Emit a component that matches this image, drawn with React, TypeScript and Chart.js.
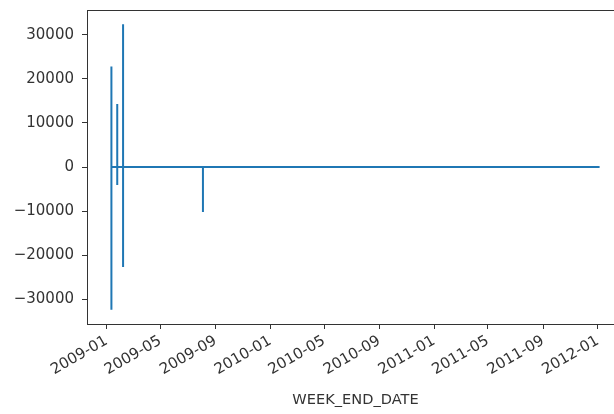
import React, { useEffect, useRef } from "react";
import { Chart, registerables } from "chart.js";

Chart.register(...registerables);

// Points in drawing order (several rows share one week, so the line runs up and down)
const pointDates = [
  "2009-01-12", "2009-01-12", "2009-01-12", "2009-01-12",
  "2009-01-25", "2009-01-25", "2009-01-25", "2009-01-25",
  "2009-02-07", "2009-02-07", "2009-02-07", "2009-02-07", "2009-02-07", "2009-02-07",
  "2009-08-04", "2009-08-04", "2009-08-04",
  "2012-01-05",
];
const pointValues = [
  0, 22800, -32400, 0,
  0, 14300, -4100, 0,
  0, 23600, -8600, 32400, -22700, 0,
  0, -10200, 0,
  0,
];

const xTickLabels = [
  "2009-01", "2009-05", "2009-09", "2010-01", "2010-05",
  "2010-09", "2011-01", "2011-05", "2011-09", "2012-01",
];
const yTickValues = [-30000, -20000, -10000, 0, 10000, 20000, 30000];

const xLabel = "WEEK_END_DATE";

const toMs = (s: string) => {
  const p = s.split("-").map(Number);
  return Date.UTC(p[0], p[1] - 1, p[2] || 1);
};

export default function App() {
  const ref = useRef<HTMLCanvasElement | null>(null);

  useEffect(() => {
    const canvas = ref.current;
    if (!canvas) return;
    const xs = pointDates.map(toMs);
    const xMinData = Math.min(...xs);
    const xMaxData = Math.max(...xs);
    const xm = (xMaxData - xMinData) * 0.05;
    const yMinData = Math.min(...pointValues);
    const yMaxData = Math.max(...pointValues);
    const ym = (yMaxData - yMinData) * 0.05;

    const frame = {
      id: "frame",
      afterDraw(chart: any) {
        const { ctx, chartArea: a } = chart;
        ctx.save();
        ctx.strokeStyle = "#333";
        ctx.lineWidth = 1;
        ctx.strokeRect(Math.round(a.left) + 0.5, Math.round(a.top) + 0.5, Math.round(a.right - a.left), Math.round(a.bottom - a.top));
        ctx.restore();
      },
    };

    const chart = new Chart(canvas, {
      type: "scatter",
      data: {
        datasets: [
          {
            data: xs.map((x, i) => ({ x, y: pointValues[i] })),
            showLine: true,
            borderColor: "#1f77b4",
            backgroundColor: "#1f77b4",
            borderWidth: 2,
            pointRadius: 0,
            tension: 0,
          },
        ],
      },
      options: {
        animation: false,
        responsive: false,
        layout: { padding: { left: 0, top: 10, right: 16, bottom: 0 } },
        plugins: { legend: { display: false }, tooltip: { enabled: false } },
        scales: {
          x: {
            type: "linear",
            min: xMinData - xm,
            max: xMaxData + xm,
            afterBuildTicks: (scale: any) => {
              scale.ticks = xTickLabels.map((l) => ({ value: toMs(l), label: l }));
            },
            afterFit: (scale: any) => {
              scale.height = 90;
            },
            grid: { drawOnChartArea: false, drawTicks: true, tickLength: 5, tickColor: "#333" },
            border: { display: false },
            ticks: {
              minRotation: 30,
              maxRotation: 30,
              autoSkip: false,
              padding: 3,
              color: "#333",
              font: { family: "DejaVu Sans", size: 15 },
              callback: (_v: any, i: number) => xTickLabels[i],
            },
            title: {
              display: true,
              text: xLabel,
              color: "#333",
              font: { family: "DejaVu Sans", size: 14.6 },
              padding: { top: 0, bottom: 5 },
            },
          },
          y: {
            min: yMinData - ym,
            max: yMaxData + ym,
            afterBuildTicks: (scale: any) => {
              scale.ticks = yTickValues.map((v) => ({ value: v }));
            },
            afterFit: (scale: any) => {
              scale.width = 87;
              scale.paddingTop = 0;
              scale.paddingBottom = 0;
            },
            grid: { drawOnChartArea: false, drawTicks: true, tickLength: 5, tickColor: "#333" },
            border: { display: false },
            ticks: {
              padding: 8,
              color: "#333",
              font: { family: "DejaVu Sans", size: 15 },
              callback: (v: any) => (v < 0 ? "\u2212" + Math.abs(v) : String(v)),
            },
          },
        },
      },
      plugins: [frame],
    } as any);
    return () => chart.destroy();
  }, []);

  return (
    <div style={{ position: "absolute", left: 0, top: 0, width: 614, height: 414, overflow: "hidden", background: "#fff" }}>
      <canvas ref={ref} width={640} height={414} style={{ display: "block" }} />
    </div>
  );
}
